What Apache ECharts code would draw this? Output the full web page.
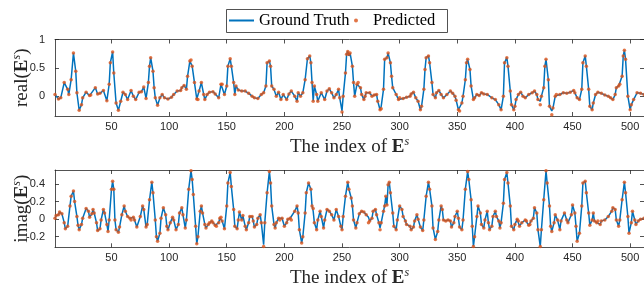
<!DOCTYPE html>
<html>
<head>
<meta charset="utf-8">
<script src="https://cdn.jsdelivr.net/npm/echarts@6/dist/echarts.min.js"></script>
<style>
  html, body { margin: 0; background: #fff; }
  #main { width: 644px; height: 285px; }
</style>
</head>
<body>
<div id="main"></div>
<script>
// real part: sample index, ground truth, predicted
const realIdx = [
  1, 4, 6, 9, 12, 13, 15, 17, 19, 20,
  22, 24, 25, 28, 31, 32, 36, 38, 40, 43,
  46, 48, 49, 51, 52, 54, 56, 58, 60, 62,
  64, 67, 69, 71, 74, 76, 78, 80, 82, 83,
  84, 86, 87, 88, 90, 92, 94, 96, 99, 102,
  104, 107, 110, 111, 113, 115, 116, 118, 119, 120,
  122, 124, 125, 126, 128, 130, 131, 133, 135, 138,
  140, 143, 145, 146, 148, 150, 151, 153, 154, 156,
  157, 158, 160, 163, 166, 169, 172, 174, 177, 180,
  182, 184, 185, 187, 188, 189, 191, 193, 195, 197,
  199, 202, 204, 206, 209, 211, 212, 214, 216, 218,
  220, 222, 223, 224, 225, 226, 228, 229, 232, 235,
  237, 239, 241, 243, 245, 247, 248, 250, 251, 253,
  254, 255, 256, 257, 259, 260, 261, 263, 264, 266,
  267, 269, 270, 271, 274, 276, 278, 280, 281, 283,
  284, 286, 287, 289, 290, 292, 293, 294, 297, 299,
  300, 303, 306, 309, 310, 312, 314, 316, 318, 319,
  321, 322, 323, 325, 326, 328, 329, 331, 332, 334,
  336, 338, 341, 344, 346, 348, 349, 351, 352, 354,
  355, 357, 358, 359, 361, 362, 364, 365, 367, 369,
  371, 373, 376, 380, 383, 386, 388, 390, 391, 393,
  394, 396, 397, 399, 400, 401, 403, 405, 407, 409,
  412, 415, 417, 419, 420, 422, 423, 425, 426, 427,
  429, 430, 432, 433, 435, 436, 439, 442, 445, 448,
  451, 452, 454, 456, 458, 459, 461, 462, 464, 465,
  467, 468, 470, 472, 475, 478, 481, 483, 485, 487,
  488, 490, 491, 493, 494, 495, 496, 498, 500, 501,
  503, 506, 509, 512
];
const realTruth = [
  .03, -.05, -.03, .24, .12, .03, .29, .76, .44, .06,
  -.25, -.15, -.03, .07, .01, .02, .15, .04, .05, .10,
  -.08, .21, .59, .78, .41, -.12, -.25, -.09, .07, .03,
  -.06, .10, 0, -.06, .07, .08, .16, -.04, .24, .53,
  .68, .44, .15, -.03, -.16, -.03, .03, -.03, -.05, -.02,
  .03, .09, .10, .15, .19, .12, .35, .62, .64, .53,
  .24, -.05, -.06, .09, .24, .03, -.06, .03, .07, .08,
  .04, -.03, .21, .21, .03, .18, .53, .66, .53, .24,
  .03, .18, .11, .09, .09, .05, 0, -.03, -.04, .03,
  .06, .18, .59, .62, .53, .18, .12, 0, .07, -.06,
  .03, -.06, .04, .09, 0, -.09, .06, 0, .06, .29,
  .66, .71, .59, .24, -.09, .18, .03, -.09, .06, -.06,
  .09, .13, .06, -.03, .03, .12, -.03, -.26, 0, .41,
  .74, .79, .71, .76, .53, .24, 0, .21, .24, .15,
  .03, -.06, 0, .06, .06, 0, .02, .03, -.09, -.24,
  -.18, .12, .65, .68, .76, .59, .35, .15, .03, -.06,
  -.03, -.04, -.02, 0, .04, .07, -.03, -.09, -.24, -.18,
  .12, .47, .68, .71, .59, .24, .03, -.03, .06, .10,
  .03, -.03, .03, .09, .05, 0, -.07, -.24, -.26, -.12,
  0, .29, .59, .65, .47, .18, -.06, -.03, .03, .01,
  .06, .04, .03, -.03, -.06, -.15, -.24, 0, .59, .68,
  .53, .09, -.15, -.24, -.18, -.06, .03, .07, 0, -.03,
  .03, .06, .09, .03, -.06, -.09, 0, .15, .53, .65,
  .29, -.18, -.26, -.21, 0, .03, .03, .06, .05, .07,
  .10, .06, -.03, -.06, .12, .59, .71, .53, .12, -.18,
  -.24, -.12, .03, .07, .05, .02, 0, -.03, -.06, .03,
  .15, .18, .21, .35, .71, .81, .65, 0, -.24, -.15,
  -.06, .06, .05, .03
];
const realPred = [
  .03, -.05, -.03, .24, .12, .03, .29, .76, .44, .06,
  -.25, -.15, -.03, .07, .01, .02, .15, .04, .05, .10,
  -.08, .21, .59, .78, .41, -.12, -.25, -.09, .07, .03,
  -.06, .10, 0, -.06, .07, .08, .16, -.04, .24, .53,
  .68, .44, .15, -.03, -.16, -.03, .03, -.03, -.05, -.02,
  .03, .09, .10, .15, .19, .12, .35, .62, .64, .53,
  .24, -.05, -.06, .09, .24, .03, -.06, .03, .07, .08,
  .04, -.03, .21, .21, .03, .18, .53, .66, .53, .24,
  .03, .18, .11, .09, .09, .05, 0, -.03, -.04, .03,
  .06, .18, .59, .62, .53, .18, .12, 0, .07, -.06,
  .03, -.06, .04, .09, 0, -.09, .06, 0, .06, .29,
  .66, .71, .59, .24, -.09, .18, .03, -.09, .06, -.06,
  .09, .13, .06, -.03, .03, .12, -.03, -.28, 0, .41,
  .74, .79, .74, .76, .53, .24, 0, .21, .24, .15,
  .03, -.06, 0, .06, .06, 0, .02, .03, -.09, -.24,
  -.22, .12, .65, .68, .76, .59, .35, .15, .03, -.06,
  -.03, -.04, -.02, 0, .04, .07, -.03, -.09, -.24, -.18,
  .12, .47, .68, .71, .59, .24, .03, -.03, .06, .10,
  .03, -.03, .03, .09, .05, 0, -.07, -.24, -.26, -.12,
  0, .29, .59, .65, .47, .18, -.06, -.03, .03, .01,
  .06, .04, .03, -.03, -.06, -.15, -.24, 0, .59, .68,
  .53, .09, -.15, -.24, -.18, -.06, .03, .07, 0, -.03,
  .03, .06, .09, .03, -.06, -.15, 0, .15, .53, .65,
  .29, -.18, -.33, -.21, 0, .03, .03, .06, .05, .07,
  .10, .06, -.03, -.06, .12, .59, .71, .53, .12, -.18,
  -.24, -.12, .03, .07, .05, .02, 0, -.03, -.06, .03,
  .15, .18, .21, .35, .71, .81, .65, 0, -.24, -.15,
  -.06, .06, .05, .03
];

// imaginary part
const imagIdx = [
  1, 2, 4, 5, 7, 9, 10, 12, 14, 15,
  17, 18, 20, 21, 22, 24, 25, 28, 30, 31,
  33, 34, 35, 37, 38, 40, 41, 43, 44, 46,
  47, 48, 50, 51, 52, 53, 54, 56, 57, 59,
  61, 62, 64, 66, 67, 69, 70, 72, 75, 77,
  78, 80, 81, 83, 85, 86, 88, 89, 90, 92,
  93, 95, 97, 98, 99, 101, 103, 104, 106, 108,
  109, 111, 112, 114, 115, 117, 119, 120, 121, 123,
  124, 125, 127, 128, 129, 131, 132, 134, 135, 137,
  138, 140, 141, 143, 144, 145, 146, 148, 150, 151,
  153, 154, 156, 157, 159, 160, 161, 163, 164, 166,
  167, 169, 170, 172, 173, 174, 176, 177, 179, 180,
  182, 183, 185, 187, 188, 189, 191, 192, 193, 195,
  196, 198, 200, 202, 203, 205, 206, 209, 211, 212,
  213, 215, 216, 218, 219, 221, 223, 224, 225, 226,
  228, 229, 231, 232, 234, 235, 237, 239, 241, 243,
  245, 247, 249, 250, 251, 253, 255, 256, 258, 259,
  260, 262, 263, 265, 267, 269, 271, 273, 274, 276,
  277, 279, 280, 282, 283, 284, 286, 287, 288, 289,
  290, 291, 292, 294, 295, 297, 298, 300, 302, 303,
  305, 306, 309, 310, 312, 313, 315, 316, 318, 320,
  321, 323, 325, 326, 328, 329, 331, 333, 334, 336,
  337, 338, 340, 342, 344, 345, 347, 348, 350, 351,
  352, 354, 355, 357, 359, 360, 362, 363, 364, 365,
  367, 368, 370, 371, 373, 374, 376, 377, 378, 380,
  381, 383, 384, 386, 387, 388, 390, 391, 393, 394,
  396, 397, 399, 400, 402, 403, 404, 406, 409, 410,
  412, 413, 414, 416, 417, 419, 420, 422, 423, 425,
  427, 428, 430, 431, 432, 434, 435, 437, 439, 440,
  443, 445, 446, 449, 450, 452, 453, 454, 456, 458,
  459, 461, 462, 464, 465, 467, 468, 469, 471, 472,
  474, 475, 478, 481, 484, 485, 487, 488, 490, 491,
  493, 495, 496, 498, 499, 501, 502, 504, 505, 507,
  509, 512
];
const imagTruth = [
  .01, .04, .05, .08, .06, -.04, -.11, -.08, .15, .26,
  .32, .20, .03, -.07, -.12, -.06, .01, .12, .09, .02,
  .06, .11, .07, -.04, -.13, -.11, -.01, .11, .07, -.06,
  -.14, -.01, .34, .43, .34, -.01, -.12, -.15, -.09, .05,
  .15, .09, .03, .01, -.01, .02, -.01, -.09, .03, .15,
  .11, -.09, -.06, .22, .42, .30, -.01, -.20, -.25, -.16,
  .01, .13, .05, -.08, -.12, -.04, .02, -.01, -.12, -.06,
  .07, .13, .05, -.10, -.01, .34, .55, .45, .28, -.08,
  -.28, -.20, .09, .15, .07, -.06, -.10, -.06, -.04, -.02,
  -.04, -.07, -.08, -.04, .01, .02, -.02, -.11, .15, .41,
  .53, .37, .11, -.08, -.11, -.01, .08, -.01, .04, -.08,
  -.12, -.04, .03, .03, -.02, -.09, -.06, .01, .05, -.04,
  -.29, -.04, .30, .54, .41, .15, -.06, -.10, -.04, .01,
  -.01, .01, -.08, -.04, 0, .01, -.01, .09, .15, .07,
  -.12, -.27, -.20, .07, .30, .41, .34, .15, .09, -.04,
  -.12, -.01, .09, .03, -.10, -.01, .11, .09, .05, -.01,
  .11, .03, -.08, -.12, .03, .26, .42, .34, .24, .15,
  -.01, -.10, -.04, .06, .09, .08, .05, .02, -.02, .01,
  .09, .11, .05, -.04, -.10, -.04, .09, .15, .26, .16,
  .39, .42, .30, .07, -.08, -.12, -.01, .15, .11, .03,
  -.02, -.06, -.08, -.12, -.09, -.02, .05, 0, -.09, -.13,
  -.01, .26, .42, .34, .15, -.10, -.23, -.14, -.01, .15,
  .11, -.01, -.02, -.01, -.02, -.09, -.04, .03, .09, .01,
  -.09, -.12, -.01, .34, .54, .45, .22, -.08, -.31, -.20,
  .03, .15, .07, -.06, -.10, -.01, .09, -.04, -.12, -.08,
  .03, .09, .03, -.02, -.10, -.04, .18, .45, .53, .41,
  .15, -.08, -.12, -.06, 0, -.02, -.08, -.04, -.01, -.02,
  -.07, -.06, -.02, .01, .13, .07, -.12, -.31, -.12, .22,
  .55, .41, .15, -.08, -.14, -.04, .05, -.01, -.12, -.02,
  .07, -.01, -.04, .05, .16, .07, -.08, -.25, -.16, .15,
  .41, .43, .30, .07, -.07, -.01, .07, -.02, -.04, -.02,
  -.06, -.02, -.01, .03, .09, .13, .11, -.01, -.08, -.01,
  .22, .42, .30, .03, -.16, -.04, .09, -.01, -.06, -.02,
  0, .01
];
const imagPred = [
  .01, .04, .05, .08, .06, -.04, -.11, -.08, .15, .26,
  .32, .20, .03, -.07, -.12, -.06, .01, .12, .09, .02,
  .06, .11, .07, -.04, -.13, -.11, -.01, .11, .07, -.06,
  -.14, -.01, .34, .43, .34, -.01, -.12, -.15, -.09, .05,
  .15, .09, .03, .01, -.01, .02, -.01, -.09, .03, .15,
  .11, -.09, -.06, .22, .42, .30, -.01, -.20, -.25, -.16,
  .01, .13, .05, -.08, -.12, -.04, .02, -.01, -.12, -.06,
  .07, .13, .05, -.10, -.01, .34, .55, .45, .28, -.08,
  -.28, -.20, .09, .15, .07, -.06, -.10, -.06, -.04, -.02,
  -.04, -.07, -.08, -.04, .01, .02, -.02, -.11, .15, .41,
  .53, .37, .11, -.08, -.11, -.01, .08, -.01, .04, -.08,
  -.12, -.04, .03, .03, -.02, -.09, -.06, .01, .05, -.04,
  -.31, -.04, .30, .54, .41, .15, -.06, -.10, -.04, .01,
  -.01, .01, -.08, -.04, 0, .01, -.01, .09, .15, .07,
  -.12, -.27, -.20, .07, .30, .41, .34, .15, .12, -.04,
  -.12, -.01, .09, .03, -.10, -.01, .11, .09, .05, -.01,
  .11, .03, -.08, -.12, .03, .26, .42, .34, .24, .15,
  -.01, -.10, -.04, .06, .09, .08, .05, -.04, -.02, .01,
  .09, .11, .05, -.04, -.12, -.04, .09, .15, .26, .16,
  .39, .42, .30, .07, -.08, -.12, -.01, .15, .11, .03,
  -.02, -.06, -.08, -.12, -.09, -.02, .05, 0, -.09, -.13,
  -.01, .26, .42, .34, .15, -.10, -.23, -.14, -.01, .15,
  .11, -.01, -.02, -.01, -.02, -.09, -.04, .03, .09, .01,
  -.09, -.12, -.01, .34, .54, .45, .22, -.08, -.31, -.20,
  .03, .15, .07, -.06, -.10, -.01, .09, -.04, -.12, -.08,
  .03, .09, .03, -.02, -.10, -.04, .18, .45, .53, .41,
  .15, -.08, -.12, -.06, 0, -.02, -.08, -.04, -.01, -.02,
  -.07, -.06, -.02, .01, .13, .07, -.12, -.31, -.12, .22,
  .55, .41, .15, -.08, -.14, -.04, .05, -.01, -.12, -.02,
  .07, -.01, -.04, .05, .16, .07, -.08, -.25, -.16, .15,
  .41, .43, .30, .07, -.07, -.01, .07, -.02, -.04, -.02,
  -.06, -.02, -.01, .03, .09, .13, .11, -.01, -.08, -.01,
  .22, .42, .30, .03, -.16, -.04, .09, -.01, -.06, -.02,
  0, .01
];

const xTicks = [50, 100, 150, 200, 250, 300, 350, 400, 450, 500];
const realTicks = [0, 0.5, 1];
const imagTicks = [-0.2, 0, 0.2, 0.4];

const BLUE = '#0072BD';
const ORANGE = '#D95319';
const AX = '#262626';

const pairs = (xs, ys) => xs.map((x, k) => [x, ys[k]]);

const nameRich = {
  b: { fontFamily: 'Liberation Serif', fontSize: 19, fontWeight: 'bold', color: AX },
  s: { fontFamily: 'Liberation Serif', fontSize: 12, fontStyle: 'italic', color: AX, padding: [0, 0, 10, 0] }
};
const nameStyle = { fontFamily: 'Liberation Serif', fontSize: 19, color: AX, rich: nameRich };

function xAxisPair(g) {
  const common = {
    type: 'value', gridIndex: g, min: 1, max: 512,
    axisLine: { show: true, onZero: false, lineStyle: { color: AX, width: 0.8 } },
    axisTick: { show: true, inside: true, length: 4, customValues: xTicks, lineStyle: { color: AX, width: 0.8 } },
    splitLine: { show: false }
  };
  return [
    Object.assign({}, common, {
      position: 'bottom',
      axisLabel: { customValues: xTicks, color: AX, fontFamily: 'Liberation Sans', fontSize: 11, margin: 5 },
      name: 'The index of {b|E}{s|s}', nameLocation: 'middle', nameGap: 20,
      nameMoveOverlap: false, nameTextStyle: nameStyle
    }),
    Object.assign({}, common, { position: 'top', axisLabel: { show: false } })
  ];
}

function yAxisPair(g, min, max, ticks, label) {
  const common = {
    type: 'value', gridIndex: g, min: min, max: max,
    axisLine: { show: true, onZero: false, lineStyle: { color: AX, width: 0.8 } },
    axisTick: { show: true, inside: true, length: 4, customValues: ticks, lineStyle: { color: AX, width: 0.8 } },
    splitLine: { show: false }
  };
  return [
    Object.assign({}, common, {
      position: 'left',
      axisLabel: { customValues: ticks, color: AX, fontFamily: 'Liberation Sans', fontSize: 11, margin: 10 },
      name: label + '({b|E}{s|s})', nameLocation: 'middle', nameGap: 22,
      nameMoveOverlap: false, nameTextStyle: nameStyle
    }),
    Object.assign({}, common, { position: 'right', axisLabel: { show: false } })
  ];
}

const chart = echarts.init(document.getElementById('main'), null, { renderer: 'canvas' });

const option = {
  animation: false,
  backgroundColor: '#fff',
  grid: [
    { left: 55, right: 0, top: 39.5, height: 76.5, outerBoundsMode: 'none' },
    { left: 55, right: 0, top: 170, height: 77.3, outerBoundsMode: 'none' }
  ],
  xAxis: [...xAxisPair(0), ...xAxisPair(1)],
  yAxis: [...yAxisPair(0, -0.35, 1, realTicks, 'real'), ...yAxisPair(1, -0.32, 0.558, imagTicks, 'imag')],
  graphic: [{
    type: 'rect', z: 0,
    shape: { x: 226.5, y: 9.5, width: 221, height: 23 },
    style: { fill: '#fff', stroke: AX, lineWidth: 0.8 }
  }],
  legend: [
    {
      data: [{ name: 'Ground Truth', icon: 'rect' }], left: 229, top: 12, padding: 0,
      itemWidth: 25, itemHeight: 2,
      textStyle: { fontFamily: 'Liberation Serif', fontSize: 16.5, color: '#000' }
    },
    {
      data: ['Predicted'], left: 354, top: 12, padding: 0,
      itemWidth: 24, itemHeight: 4,
      textStyle: { fontFamily: 'Liberation Serif', fontSize: 16.5, color: '#000' }
    }
  ],
  series: [
    {
      name: 'Ground Truth', type: 'line', xAxisIndex: 0, yAxisIndex: 0, z: 3,
      data: pairs(realIdx, realTruth), symbol: 'none',
      lineStyle: { color: BLUE, width: 1.5 }, itemStyle: { color: BLUE }
    },
    {
      name: 'Predicted', type: 'scatter', xAxisIndex: 0, yAxisIndex: 0, z: 5,
      data: pairs(realIdx, realPred), symbol: 'circle', symbolSize: 3.5,
      itemStyle: { color: ORANGE }
    },
    {
      name: 'Ground Truth', type: 'line', xAxisIndex: 2, yAxisIndex: 2, z: 3,
      data: pairs(imagIdx, imagTruth), symbol: 'none',
      lineStyle: { color: BLUE, width: 1.5 }, itemStyle: { color: BLUE }
    },
    {
      name: 'Predicted', type: 'scatter', xAxisIndex: 2, yAxisIndex: 2, z: 5,
      data: pairs(imagIdx, imagPred), symbol: 'circle', symbolSize: 3.5,
      itemStyle: { color: ORANGE }
    }
  ]
};

chart.setOption(option);
window.addEventListener('resize', () => chart.resize());
</script>
</body>
</html>
